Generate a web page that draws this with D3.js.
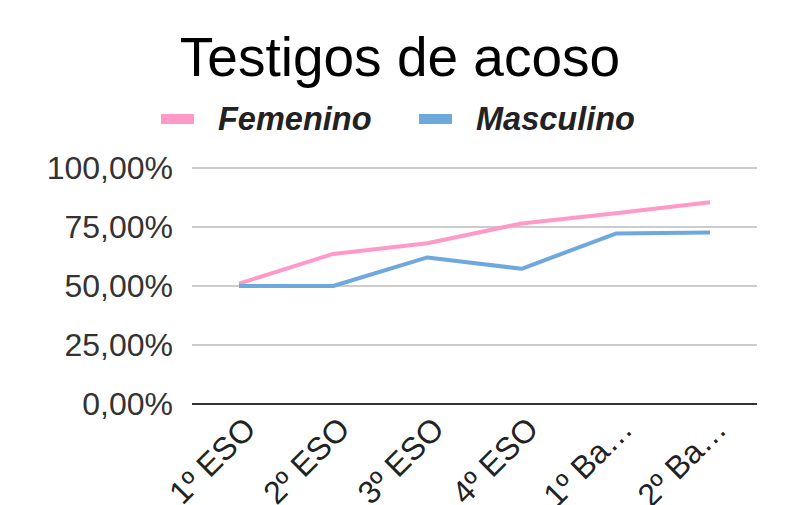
<!DOCTYPE html>
<html>
<head>
<meta charset="utf-8">
<script src="https://cdn.jsdelivr.net/npm/d3@7"></script>
<style>
  html, body { margin: 0; padding: 0; background: #fff; }
  svg { display: block; font-family: "Liberation Sans", Arial, sans-serif; }
</style>
</head>
<body>
<svg id="chart" width="800" height="505"></svg>
<script>
const title = "Testigos de acoso";
const categories = ["1º ESO", "2º ESO", "3º ESO", "4º ESO", "1º Ba…", "2º Ba…"];
const seriesNames = ["Femenino", "Masculino"];
const seriesColors = ["#ff99c8", "#6fa8dc"];
const femenino = [0.51, 0.636, 0.681, 0.765, 0.808, 0.855];
const masculino = [0.50, 0.50, 0.621, 0.573, 0.722, 0.727];
const yTicks = [0, 0.25, 0.5, 0.75, 1];

const svg = d3.select("#chart");
const margin = { left: 192, right: 757, top: 168, bottom: 404 };

const x = d3.scalePoint().domain(categories).range([239, 710]);
const y = d3.scaleLinear().domain([0, 1]).range([margin.bottom, margin.top]);

const fmt = v => d3.format(".2f")(v * 100).replace(".", ",") + "%";

// title
svg.append("text")
  .attr("x", 400).attr("y", 76)
  .attr("text-anchor", "middle")
  .attr("font-size", 55)
  .attr("fill", "#000")
  .text(title);

// legend
const legendItems = [
  { name: seriesNames[0], color: seriesColors[0], sx: 161, tx: 218 },
  { name: seriesNames[1], color: seriesColors[1], sx: 419, tx: 476 }
];
legendItems.forEach(d => {
  svg.append("rect").attr("x", d.sx).attr("y", 114).attr("width", 33).attr("height", 10)
    .attr("fill", d.color);
  svg.append("text").attr("x", d.tx).attr("y", 130)
    .attr("font-size", 32.5).attr("font-weight", "bold").attr("font-style", "italic")
    .attr("fill", "#222").text(d.name);
});

// gridlines
svg.append("g").selectAll("line").data(yTicks.filter(t => t > 0)).join("line")
  .attr("x1", margin.left).attr("x2", margin.right)
  .attr("y1", d => y(d)).attr("y2", d => y(d))
  .attr("stroke", "#cccccc").attr("stroke-width", 2);

// y axis labels
const yAxis = d3.axisLeft(y).tickValues(yTicks).tickFormat(fmt).tickSize(0).tickPadding(19);
const gy = svg.append("g").attr("transform", `translate(${margin.left},0)`).call(yAxis);
gy.select(".domain").remove();
gy.selectAll("text").attr("font-size", 32).attr("fill", "#333")
  .attr("font-family", "Liberation Sans, Arial, sans-serif");

// x axis baseline
svg.append("line")
  .attr("x1", margin.left).attr("x2", margin.right)
  .attr("y1", y(0)).attr("y2", y(0))
  .attr("stroke", "#333").attr("stroke-width", 2);

// x labels
const xAxis = d3.axisBottom(x).tickSize(0);
const gx = svg.append("g").attr("transform", `translate(0,${y(0)})`).call(xAxis);
gx.select(".domain").remove();
gx.selectAll("text")
  .attr("font-size", 32).attr("fill", "#222")
  .attr("font-family", "Liberation Sans, Arial, sans-serif")
  .attr("text-anchor", "end")
  .attr("dy", null).attr("y", 0).attr("x", 0)
  .attr("transform", "translate(18,27) rotate(-45)");

// lines
const line = d3.line().x((d, i) => x(categories[i])).y(d => y(d));
[femenino, masculino].forEach((s, i) => {
  svg.append("path").datum(s)
    .attr("fill", "none")
    .attr("stroke", seriesColors[i])
    .attr("stroke-width", 4)
    .attr("stroke-linejoin", "round")
    .attr("d", line);
});
</script>
</body>
</html>
